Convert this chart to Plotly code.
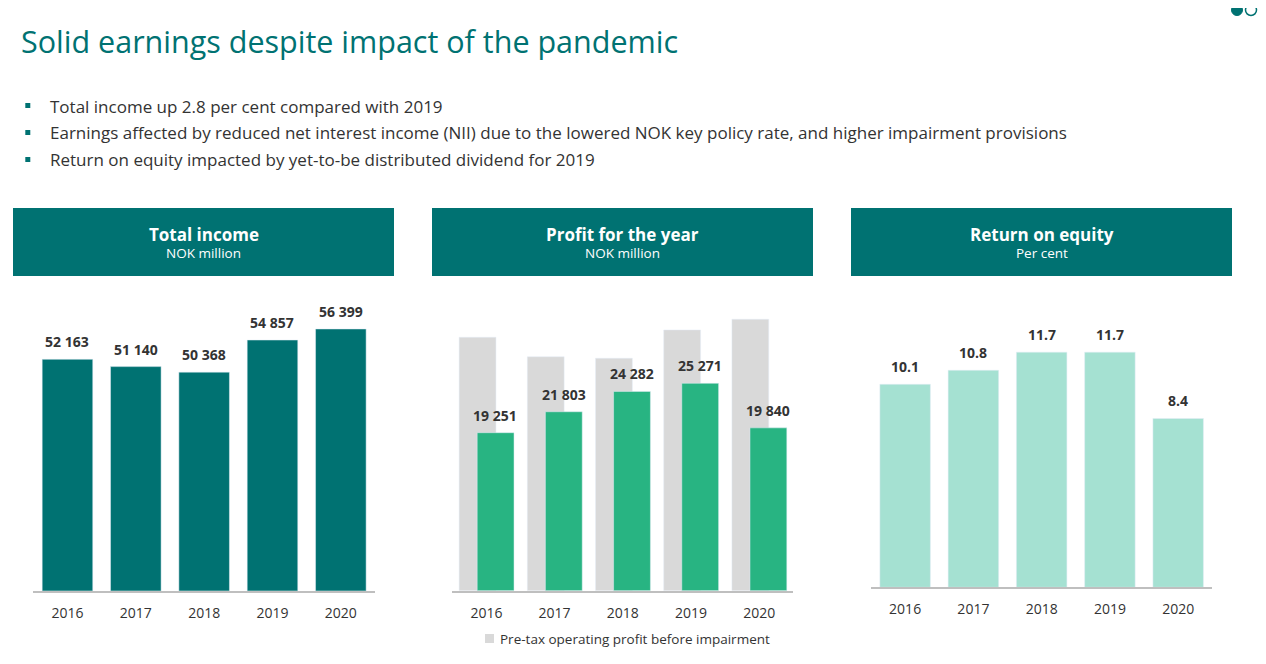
import plotly.graph_objects as go

# The page body keeps an 8 px margin, so the figure is sized to fit inside it.
PAGE_W, PAGE_H = 1266, 664
OFF = 8
W, H = PAGE_W - 2 * OFF, PAGE_H - 2 * OFF

years = ["2016", "2017", "2018", "2019", "2020"]
total_income = [52163, 51140, 50368, 54857, 56399]
profit_year = [19251, 21803, 24282, 25271, 19840]
pretax_before_impairment = [30880, 28510, 28320, 31770, 33070]
roe = [10.1, 10.8, 11.7, 11.7, 8.4]

title_text = "Solid earnings despite impact of the pandemic"
bullets = [
    "Total income up 2.8 per cent compared with 2019",
    "Earnings affected by reduced net interest income (NII) due to the lowered NOK key policy rate, and higher impairment provisions",
    "Return on equity impacted by yet-to-be distributed dividend for 2019",
]
panel_titles = ["Total income", "Profit for the year", "Return on equity"]
panel_units = ["NOK million", "NOK million", "Per cent"]
legend_text = "Pre-tax operating profit before impairment"

TEAL = "#007272"
GREEN = "#28B482"
GREY = "#D9D9D9"
MINT = "#A5E1D2"
TXT = "#333333"
FONT = "Open Sans"


def px(x):
    return (x - OFF) / W


def py(y):
    return 1 - (y - OFF) / H


def fmt(v):
    return f"{v:,.0f}".replace(",", " ")


fig = go.Figure()

# Panel 1
fig.add_trace(go.Bar(x=years, y=total_income, marker_color=TEAL, width=0.74,
                     xaxis="x", yaxis="y", showlegend=False))
# Panel 2
fig.add_trace(go.Bar(x=years, y=pretax_before_impairment, marker_color=GREY,
                     width=0.54, offset=-0.40, xaxis="x2", yaxis="y2",
                     showlegend=False))
fig.add_trace(go.Bar(x=years, y=profit_year, marker_color=GREEN,
                     width=0.54, offset=-0.135, xaxis="x2", yaxis="y2",
                     showlegend=False))
# Panel 3
fig.add_trace(go.Bar(x=years, y=roe, marker_color=MINT, width=0.74,
                     xaxis="x3", yaxis="y3", showlegend=False))

lab_font = dict(family=FONT, size=14, color=TXT)
annotations = []
for i, v in enumerate(total_income):
    annotations.append(dict(x=i, y=v, xref="x", yref="y", text=f"<b>{fmt(v)}</b>",
                            showarrow=False, xanchor="center", yanchor="bottom",
                            yshift=6, font=lab_font))
for i, v in enumerate(profit_year):
    annotations.append(dict(x=i, y=v, xref="x2", yref="y2", text=f"<b>{fmt(v)}</b>",
                            showarrow=False, xanchor="center", yanchor="bottom",
                            yshift=6, xshift=9, font=lab_font))
for i, v in enumerate(roe):
    annotations.append(dict(x=i, y=v, xref="x3", yref="y3", text=f"<b>{v:.1f}</b>",
                            showarrow=False, xanchor="center", yanchor="bottom",
                            yshift=6, font=lab_font))

# Title
annotations.append(dict(x=px(19), y=py(41.5), xref="paper", yref="paper", text=title_text,
                        showarrow=False, xanchor="left", yanchor="middle",
                        font=dict(family=FONT, size=30.5, color=TEAL)))
shapes = []
for i, b in enumerate(bullets):
    yc = 106 + 27 * i
    annotations.append(dict(x=px(48), y=py(yc), xref="paper", yref="paper", text=b,
                            showarrow=False, xanchor="left", yanchor="middle",
                            font=dict(family=FONT, size=17, color=TXT)))
    shapes.append(dict(type="rect", xref="paper", yref="paper",
                       x0=px(25.3), x1=px(30.3), y0=py(yc + 2), y1=py(yc - 3),
                       fillcolor=TEAL, line=dict(width=0)))

# Header boxes
box_x = [(13, 394), (432, 813), (851, 1232)]
for (x0, x1), t, u in zip(box_x, panel_titles, panel_units):
    shapes.append(dict(type="rect", xref="paper", yref="paper",
                       x0=px(x0), x1=px(x1), y0=py(276), y1=py(208),
                       fillcolor=TEAL, line=dict(width=0), layer="below"))
    annotations.append(dict(x=px((x0 + x1) / 2), y=py(234), xref="paper", yref="paper",
                            text=f"<b>{t}</b>", showarrow=False,
                            xanchor="center", yanchor="middle",
                            font=dict(family=FONT, size=17, color="white")))
    annotations.append(dict(x=px((x0 + x1) / 2), y=py(253), xref="paper", yref="paper",
                            text=u, showarrow=False, xanchor="center", yanchor="middle",
                            font=dict(family=FONT, size=13.5, color="white")))

# Legend (panel 2)
shapes.append(dict(type="rect", xref="paper", yref="paper",
                   x0=px(485), x1=px(494), y0=py(643), y1=py(634),
                   fillcolor=GREY, line=dict(width=0)))
annotations.append(dict(x=px(498), y=py(639), xref="paper", yref="paper", text=legend_text,
                        showarrow=False, xanchor="left", yanchor="middle",
                        font=dict(family=FONT, size=13.5, color=TXT)))

# Page dots
shapes.append(dict(type="circle", xref="paper", yref="paper",
                   x0=px(1231.5), x1=px(1242.5), y0=py(15.5), y1=py(4.5),
                   fillcolor=TEAL, line=dict(color=TEAL, width=1)))
shapes.append(dict(type="circle", xref="paper", yref="paper",
                   x0=px(1245.5), x1=px(1256.5), y0=py(15.5), y1=py(4.5),
                   fillcolor="white", line=dict(color=TEAL, width=1.5)))

xax_common = dict(type="category", range=[-0.5, 4.5], showgrid=False, zeroline=False,
                  showline=True, linecolor="#BFBFBF", linewidth=2, ticks="",
                  tickfont=dict(family=FONT, size=14, color=TXT), ticklabelstandoff=8,
                  fixedrange=True)
yax_common = dict(showgrid=False, zeroline=False, showticklabels=False, showline=False,
                  fixedrange=True)

fig.update_layout(
    width=W, height=H,
    margin=dict(l=0, r=0, t=0, b=0),
    paper_bgcolor="white", plot_bgcolor="white",
    barmode="overlay",
    font=dict(family=FONT, color=TXT),
    xaxis=dict(domain=[px(33.3), px(375)], anchor="y", **xax_common),
    yaxis=dict(domain=[py(590.7), py(300)], range=[19826, 19826 + 290.7 / 0.007156],
               anchor="x", **yax_common),
    xaxis2=dict(domain=[px(452.3), px(793.3)], anchor="y2", **xax_common),
    yaxis2=dict(domain=[py(590.7), py(300)], range=[0, 290.7 / 0.008207],
                anchor="x2", **yax_common),
    xaxis3=dict(domain=[px(871), px(1212.3)], anchor="y3", **xax_common),
    yaxis3=dict(domain=[py(587.3), py(300)], range=[0, 287.3 / 20.1],
                anchor="x3", **yax_common),
    annotations=annotations,
    shapes=shapes,
    showlegend=False,
)

fig.write_html("out.html")
